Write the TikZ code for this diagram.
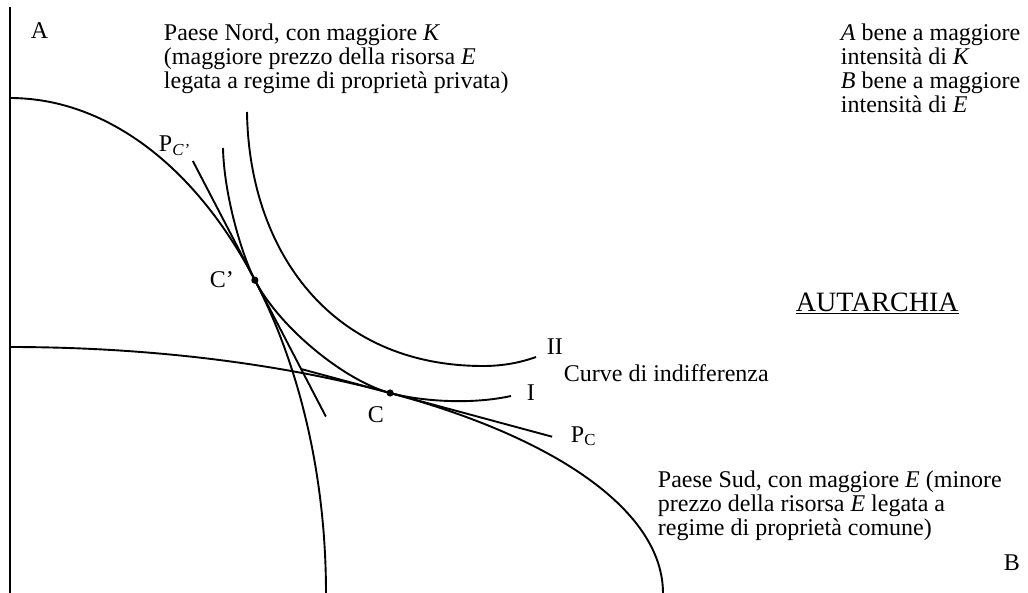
\documentclass[tikz,border=0pt]{standalone}
\usepackage{fontspec}
\setmainfont{Liberation Serif}
\usetikzlibrary{positioning, calc}

\begin{document}
\begin{tikzpicture}[x=1pt, y=-1pt, line width=1.9pt,
    every node/.style={align=left, inner sep=0pt, font=\fontsize{24}{24}\selectfont},
    txt/.style={anchor=base west},
    blk/.style={anchor=north west}]
    \useasboundingbox (0,0) rectangle (1028,593);
    % Axis
    \draw[line width=2.4pt] (10,7) -- (10,593);
    % Production frontiers: Nord (steep) and Sud (flat)
    \draw[domain=90:0, samples=80, smooth] plot ({10+316*cos(\x)}, {593-495*sin(\x)});
    \draw[domain=90:0, samples=80, smooth] plot ({10+653*cos(\x)}, {593-246*sin(\x)});
    % Tangency points
    \coordinate (Cp) at ({10+316*cos(39.2)}, {593-495*sin(39.2)});
    \coordinate (Cs) at ({10+653*cos(54.4)}, {593-246*sin(54.4)});
    % Price lines
    \draw ($(Cp)+(-62,-119.1)$) -- ($(Cp)+(71,136.4)$);
    \draw ($(Cs)+(-88,-23.7)$) -- ($(Cs)+(162,43.7)$);
    % Indifference curves I and II
    \draw (223,148) .. controls (224,195) and ($(Cp)+(-13,-25)$) .. (Cp)
        .. controls ($(Cp)+(25,48)$) and ($(Cs)+(-45,-12.1)$) .. (Cs)
        .. controls ($(Cs)+(30,8.1)$) and (470,405) .. (511,396);
    \draw (247,112) .. controls (249,250) and (330,366) .. (483,366)
        .. controls (505,366) and (522,362) .. (536,357);
    \fill (Cp) circle[radius=3.6pt];
    \fill (Cs) circle[radius=3.6pt];
    % Labels
    \node[txt] (lA) at (30,39) {A};
    \node[txt] (lB) at (1003,570) {B};
    \node[blk] (nord) at (163,22.6) {Paese Nord, con maggiore \textit{K}\\(maggiore prezzo della risorsa \textit{E}\\legata a regime di proprietà privata)};
    \node[blk] (beni) at (840,22.6) {\textit{A} bene a maggiore\\intensità di \textit{K}\\\textit{B} bene a maggiore\\intensità di \textit{E}};
    \node[blk] (sud) at (657,470) {Paese Sud, con maggiore \textit{E} (minore\\prezzo della risorsa \textit{E} legata a\\regime di proprietà comune)};
    \node[txt] (pcp) at (158,152) {P\textsubscript{\textit{C’}}};
    \node[txt] (lCp) at (209,288) {C’};
    \node[txt] (lC) at (367,422) {C};
    \node[txt] (pc) at (570,442) {P\textsubscript{C}};
    \node[txt] (lI) at (526,400) {I};
    \node[txt] (lII) at (546,355) {II};
    \node[txt] (curve) at (563,382) {Curve di indifferenza};
    \node[txt, font=\fontsize{28}{28}\selectfont] (aut) at (795,312) {\underline{AUTARCHIA}};
\end{tikzpicture}
\end{document}
